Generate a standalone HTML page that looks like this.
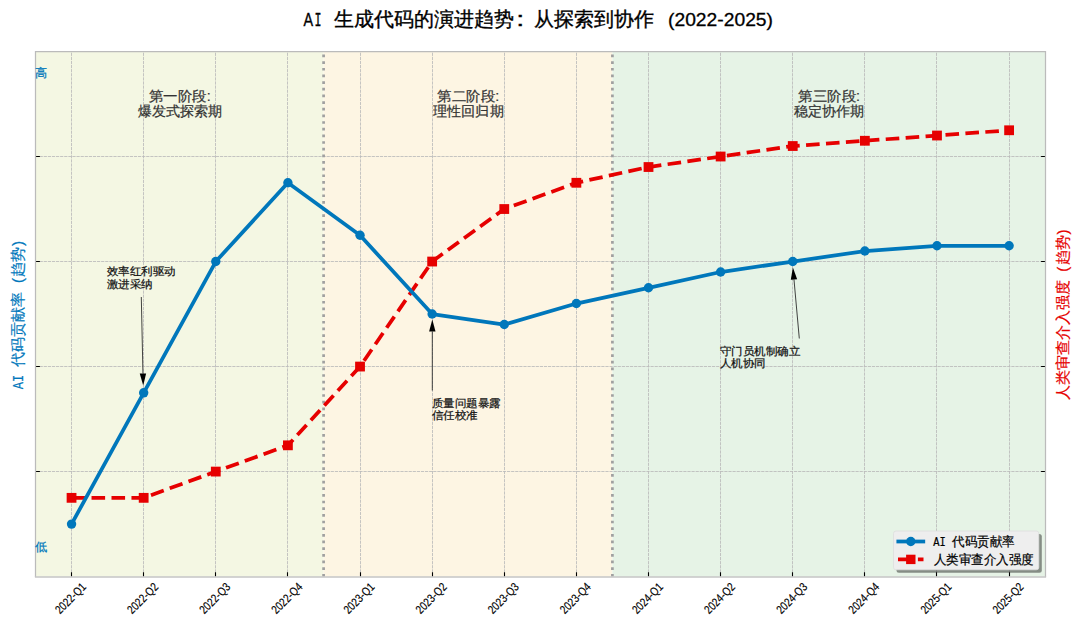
<!DOCTYPE html><html><head><meta charset="utf-8"><title>AI 生成代码的演进趋势</title><style>
html,body{margin:0;padding:0;background:#fff;}body{width:1080px;height:625px;overflow:hidden;}
svg{display:block;} text{font-family:"Liberation Sans",sans-serif;}
.m{font-family:"Liberation Mono",monospace;}
</style></head><body>
<svg width="1080" height="625" viewBox="0 0 1080 625">
<rect x="0" y="0" width="1080" height="625" fill="#ffffff"/>
<rect x="35.5" y="51.5" width="288.10" height="525.10" fill="#f4f7e3"/>
<rect x="323.60" y="51.5" width="288.80" height="525.10" fill="#fdf5e3"/>
<rect x="612.40" y="51.5" width="433.10" height="525.10" fill="#e6f3e6"/>
<path d="M71.50 576.6V51.5M143.50 576.6V51.5M215.50 576.6V51.5M287.50 576.6V51.5M360.50 576.6V51.5M432.50 576.6V51.5M504.50 576.6V51.5M576.50 576.6V51.5M648.50 576.6V51.5M720.50 576.6V51.5M792.50 576.6V51.5M864.50 576.6V51.5M936.50 576.6V51.5M1009.50 576.6V51.5M35.5 471.50H1045.5M35.5 366.50H1045.5M35.5 261.50H1045.5M35.5 156.50H1045.5" stroke="#bababa" stroke-width="0.85" stroke-dasharray="3.2 0.9" fill="none"/>
<path d="M323.60 576.6V51.5M612.40 576.6V51.5" stroke="#a0a0a0" stroke-width="2.7" stroke-dasharray="2.7 3.958" fill="none"/>
<text x="179.80" y="101.00" font-size="13.75" fill="#333333" text-anchor="middle" textLength="61.88" lengthAdjust="spacingAndGlyphs" stroke="#333333" stroke-width="0.22">第一阶段:</text>
<text x="179.80" y="115.80" font-size="13.75" fill="#333333" text-anchor="middle" textLength="84.60" lengthAdjust="spacingAndGlyphs" stroke="#333333" stroke-width="0.22">爆发式探索期</text>
<text x="468.40" y="101.00" font-size="13.75" fill="#333333" text-anchor="middle" textLength="61.88" lengthAdjust="spacingAndGlyphs" stroke="#333333" stroke-width="0.22">第二阶段:</text>
<text x="468.40" y="115.80" font-size="13.75" fill="#333333" text-anchor="middle" textLength="70.50" lengthAdjust="spacingAndGlyphs" stroke="#333333" stroke-width="0.22">理性回归期</text>
<text x="829.10" y="101.00" font-size="13.75" fill="#333333" text-anchor="middle" textLength="61.88" lengthAdjust="spacingAndGlyphs" stroke="#333333" stroke-width="0.22">第三阶段:</text>
<text x="829.10" y="115.80" font-size="13.75" fill="#333333" text-anchor="middle" textLength="70.50" lengthAdjust="spacingAndGlyphs" stroke="#333333" stroke-width="0.22">稳定协作期</text>
<polyline points="71.55,497.84 143.67,497.84 215.79,471.58 287.91,445.33 360.03,366.56 432.15,261.54 504.27,209.03 576.39,182.78 648.51,167.02 720.63,156.52 792.75,146.02 864.87,140.77 936.99,135.52 1009.11,130.27" fill="none" stroke="#e60000" stroke-width="3.75" stroke-dasharray="13.6 6.37" stroke-linejoin="round"/>
<rect x="66.65" y="492.94" width="9.8" height="9.8" fill="#e60000"/>
<rect x="138.77" y="492.94" width="9.8" height="9.8" fill="#e60000"/>
<rect x="210.89" y="466.68" width="9.8" height="9.8" fill="#e60000"/>
<rect x="283.01" y="440.43" width="9.8" height="9.8" fill="#e60000"/>
<rect x="355.13" y="361.66" width="9.8" height="9.8" fill="#e60000"/>
<rect x="427.25" y="256.64" width="9.8" height="9.8" fill="#e60000"/>
<rect x="499.37" y="204.13" width="9.8" height="9.8" fill="#e60000"/>
<rect x="571.49" y="177.88" width="9.8" height="9.8" fill="#e60000"/>
<rect x="643.61" y="162.12" width="9.8" height="9.8" fill="#e60000"/>
<rect x="715.73" y="151.62" width="9.8" height="9.8" fill="#e60000"/>
<rect x="787.85" y="141.12" width="9.8" height="9.8" fill="#e60000"/>
<rect x="859.97" y="135.87" width="9.8" height="9.8" fill="#e60000"/>
<rect x="932.09" y="130.62" width="9.8" height="9.8" fill="#e60000"/>
<rect x="1004.21" y="125.37" width="9.8" height="9.8" fill="#e60000"/>
<polyline points="71.55,524.09 143.67,392.82 215.79,261.54 287.91,182.78 360.03,235.29 432.15,314.05 504.27,324.55 576.39,303.55 648.51,287.80 720.63,272.04 792.75,261.54 864.87,251.04 936.99,245.79 1009.11,245.79" fill="none" stroke="#0077bb" stroke-width="3.75" stroke-linejoin="round"/>
<circle cx="71.55" cy="524.09" r="4.7" fill="#0077bb"/>
<circle cx="143.67" cy="392.82" r="4.7" fill="#0077bb"/>
<circle cx="215.79" cy="261.54" r="4.7" fill="#0077bb"/>
<circle cx="287.91" cy="182.78" r="4.7" fill="#0077bb"/>
<circle cx="360.03" cy="235.29" r="4.7" fill="#0077bb"/>
<circle cx="432.15" cy="314.05" r="4.7" fill="#0077bb"/>
<circle cx="504.27" cy="324.55" r="4.7" fill="#0077bb"/>
<circle cx="576.39" cy="303.55" r="4.7" fill="#0077bb"/>
<circle cx="648.51" cy="287.80" r="4.7" fill="#0077bb"/>
<circle cx="720.63" cy="272.04" r="4.7" fill="#0077bb"/>
<circle cx="792.75" cy="261.54" r="4.7" fill="#0077bb"/>
<circle cx="864.87" cy="251.04" r="4.7" fill="#0077bb"/>
<circle cx="936.99" cy="245.79" r="4.7" fill="#0077bb"/>
<circle cx="1009.11" cy="245.79" r="4.7" fill="#0077bb"/>
<path d="M71.50 576.6v-4.4M143.50 576.6v-4.4M215.50 576.6v-4.4M287.50 576.6v-4.4M360.50 576.6v-4.4M432.50 576.6v-4.4M504.50 576.6v-4.4M576.50 576.6v-4.4M648.50 576.6v-4.4M720.50 576.6v-4.4M792.50 576.6v-4.4M864.50 576.6v-4.4M936.50 576.6v-4.4M1009.50 576.6v-4.4M35.5 471.50h4.4M1045.5 471.50h-4.4M35.5 366.50h4.4M1045.5 366.50h-4.4M35.5 261.50h4.4M1045.5 261.50h-4.4M35.5 156.50h4.4M1045.5 156.50h-4.4" stroke="#000" stroke-width="1.1" fill="none"/>
<path d="M35.5 577.0V51.5H1045.5V577.0" fill="none" stroke="#bbbbbb" stroke-width="1.25"/>
<path d="M34.9 577.0H1046.1" fill="none" stroke="#c4c4c4" stroke-width="1.4"/>
<text x="34.90" y="77.40" font-size="12.2" fill="#0077bb" textLength="12.20" lengthAdjust="spacingAndGlyphs" stroke="#0077bb" stroke-width="0.22">高</text>
<text x="34.90" y="550.60" font-size="12.2" fill="#0077bb" textLength="12.20" lengthAdjust="spacingAndGlyphs" stroke="#0077bb" stroke-width="0.22">低</text>
<path d="M141.30 297.00L142.94 373.50" stroke="#222" stroke-width="0.85" fill="none"/>
<path d="M143.20 385.50L139.74 373.57L146.14 373.43Z" fill="#000"/>
<text x="106.60" y="275.40" font-size="11.25" fill="#111" textLength="69.00" lengthAdjust="spacingAndGlyphs" stroke="#111" stroke-width="0.22">效率红利驱动</text>
<text x="106.60" y="288.20" font-size="11.25" fill="#111" textLength="46.00" lengthAdjust="spacingAndGlyphs" stroke="#111" stroke-width="0.22">激进采纳</text>
<path d="M432.30 390.50L432.30 331.50" stroke="#222" stroke-width="0.85" fill="none"/>
<path d="M432.30 319.50L435.50 331.50L429.10 331.50Z" fill="#000"/>
<text x="431.60" y="407.30" font-size="11.25" fill="#111" textLength="69.00" lengthAdjust="spacingAndGlyphs" stroke="#111" stroke-width="0.22">质量问题暴露</text>
<text x="431.60" y="419.00" font-size="11.25" fill="#111" textLength="46.00" lengthAdjust="spacingAndGlyphs" stroke="#111" stroke-width="0.22">信任校准</text>
<path d="M799.30 338.50L793.98 279.45" stroke="#222" stroke-width="0.85" fill="none"/>
<path d="M792.90 267.50L797.16 279.16L790.79 279.74Z" fill="#000"/>
<text x="719.60" y="355.30" font-size="11.25" fill="#111" textLength="80.50" lengthAdjust="spacingAndGlyphs" stroke="#111" stroke-width="0.22">守门员机制确立</text>
<text x="719.60" y="367.20" font-size="11.25" fill="#111" textLength="46.00" lengthAdjust="spacingAndGlyphs" stroke="#111" stroke-width="0.22">人机协同</text>
<text x="0" y="0" font-size="12" fill="#000" stroke="#000" stroke-width="0.15" text-anchor="middle" textLength="38" lengthAdjust="spacingAndGlyphs" transform="translate(70.75,598.50) rotate(-45) translate(0,3.8)">2022-Q1</text>
<text x="0" y="0" font-size="12" fill="#000" stroke="#000" stroke-width="0.15" text-anchor="middle" textLength="38" lengthAdjust="spacingAndGlyphs" transform="translate(142.87,598.50) rotate(-45) translate(0,3.8)">2022-Q2</text>
<text x="0" y="0" font-size="12" fill="#000" stroke="#000" stroke-width="0.15" text-anchor="middle" textLength="38" lengthAdjust="spacingAndGlyphs" transform="translate(214.99,598.50) rotate(-45) translate(0,3.8)">2022-Q3</text>
<text x="0" y="0" font-size="12" fill="#000" stroke="#000" stroke-width="0.15" text-anchor="middle" textLength="38" lengthAdjust="spacingAndGlyphs" transform="translate(287.11,598.50) rotate(-45) translate(0,3.8)">2022-Q4</text>
<text x="0" y="0" font-size="12" fill="#000" stroke="#000" stroke-width="0.15" text-anchor="middle" textLength="38" lengthAdjust="spacingAndGlyphs" transform="translate(359.23,598.50) rotate(-45) translate(0,3.8)">2023-Q1</text>
<text x="0" y="0" font-size="12" fill="#000" stroke="#000" stroke-width="0.15" text-anchor="middle" textLength="38" lengthAdjust="spacingAndGlyphs" transform="translate(431.35,598.50) rotate(-45) translate(0,3.8)">2023-Q2</text>
<text x="0" y="0" font-size="12" fill="#000" stroke="#000" stroke-width="0.15" text-anchor="middle" textLength="38" lengthAdjust="spacingAndGlyphs" transform="translate(503.47,598.50) rotate(-45) translate(0,3.8)">2023-Q3</text>
<text x="0" y="0" font-size="12" fill="#000" stroke="#000" stroke-width="0.15" text-anchor="middle" textLength="38" lengthAdjust="spacingAndGlyphs" transform="translate(575.59,598.50) rotate(-45) translate(0,3.8)">2023-Q4</text>
<text x="0" y="0" font-size="12" fill="#000" stroke="#000" stroke-width="0.15" text-anchor="middle" textLength="38" lengthAdjust="spacingAndGlyphs" transform="translate(647.71,598.50) rotate(-45) translate(0,3.8)">2024-Q1</text>
<text x="0" y="0" font-size="12" fill="#000" stroke="#000" stroke-width="0.15" text-anchor="middle" textLength="38" lengthAdjust="spacingAndGlyphs" transform="translate(719.83,598.50) rotate(-45) translate(0,3.8)">2024-Q2</text>
<text x="0" y="0" font-size="12" fill="#000" stroke="#000" stroke-width="0.15" text-anchor="middle" textLength="38" lengthAdjust="spacingAndGlyphs" transform="translate(791.95,598.50) rotate(-45) translate(0,3.8)">2024-Q3</text>
<text x="0" y="0" font-size="12" fill="#000" stroke="#000" stroke-width="0.15" text-anchor="middle" textLength="38" lengthAdjust="spacingAndGlyphs" transform="translate(864.07,598.50) rotate(-45) translate(0,3.8)">2024-Q4</text>
<text x="0" y="0" font-size="12" fill="#000" stroke="#000" stroke-width="0.15" text-anchor="middle" textLength="38" lengthAdjust="spacingAndGlyphs" transform="translate(936.19,598.50) rotate(-45) translate(0,3.8)">2025-Q1</text>
<text x="0" y="0" font-size="12" fill="#000" stroke="#000" stroke-width="0.15" text-anchor="middle" textLength="38" lengthAdjust="spacingAndGlyphs" transform="translate(1008.31,598.50) rotate(-45) translate(0,3.8)">2025-Q2</text>
<g transform="translate(23.3,314.6) rotate(-90)">
<text x="-74.60" y="0" font-size="15" fill="#0077bb" stroke="#0077bb" stroke-width="0.2" textLength="14.40" lengthAdjust="spacingAndGlyphs" class="m">AI</text>
<text x="-52.50" y="0" font-size="15" fill="#0077bb" stroke="#0077bb" stroke-width="0.2" textLength="75.00" lengthAdjust="spacingAndGlyphs">代码贡献率</text>
<text x="31.50" y="0" font-size="15" fill="#0077bb" stroke="#0077bb" stroke-width="0.2" textLength="5.00" lengthAdjust="spacingAndGlyphs">(</text>
<text x="37.50" y="0" font-size="15" fill="#0077bb" stroke="#0077bb" stroke-width="0.2" textLength="30.00" lengthAdjust="spacingAndGlyphs">趋势</text>
<text x="68.50" y="0" font-size="15" fill="#0077bb" stroke="#0077bb" stroke-width="0.2" textLength="5.00" lengthAdjust="spacingAndGlyphs">)</text>
</g>
<g transform="translate(1068,314.2) rotate(-90)">
<text x="-86.25" y="0" font-size="15" fill="#e60000" stroke="#e60000" stroke-width="0.2" textLength="120.00" lengthAdjust="spacingAndGlyphs">人类审查介入强度</text>
<text x="42.50" y="0" font-size="15" fill="#e60000" stroke="#e60000" stroke-width="0.2" textLength="5.00" lengthAdjust="spacingAndGlyphs">(</text>
<text x="48.75" y="0" font-size="15" fill="#e60000" stroke="#e60000" stroke-width="0.2" textLength="30.00" lengthAdjust="spacingAndGlyphs">趋势</text>
<text x="79.75" y="0" font-size="15" fill="#e60000" stroke="#e60000" stroke-width="0.2" textLength="5.00" lengthAdjust="spacingAndGlyphs">)</text>
</g>
<text x="303.60" y="26.20" font-size="18.5" fill="#000" textLength="9.60" lengthAdjust="spacingAndGlyphs" stroke="#000" stroke-width="0.35">A</text>
<text x="314.40" y="26.20" font-size="20" fill="#000" textLength="7.00" lengthAdjust="spacingAndGlyphs" class="m" stroke="#000" stroke-width="0.35">I</text>
<text x="334.00" y="26.20" font-size="20" fill="#000" textLength="180.00" lengthAdjust="spacingAndGlyphs" stroke="#000" stroke-width="0.35">生成代码的演进趋势</text>
<text x="516.30" y="26.20" font-size="20" fill="#000" textLength="8.00" lengthAdjust="spacingAndGlyphs" stroke="#000" stroke-width="0.35">:</text>
<text x="534.00" y="26.20" font-size="20" fill="#000" textLength="120.00" lengthAdjust="spacingAndGlyphs" stroke="#000" stroke-width="0.35">从探索到协作</text>
<text x="668.00" y="26.20" font-size="18.5" fill="#000" textLength="105.00" lengthAdjust="spacingAndGlyphs" stroke="#000" stroke-width="0.3">(2022-2025)</text>
<rect x="896.5" y="534" width="145.3" height="38.8" rx="2.5" fill="rgba(0,0,0,0.42)"/>
<rect x="893.5" y="531" width="145.3" height="38.8" rx="2.5" fill="#eeeeee" stroke="#dddddd" stroke-width="0.8"/>
<path d="M898.3 541.5H923.3" stroke="#0077bb" stroke-width="3.75" stroke-linecap="square"/>
<circle cx="910.8" cy="541.5" r="4.7" fill="#0077bb"/>
<path d="M898 559.4H923.5" stroke="#e60000" stroke-width="3.75" stroke-dasharray="13.9 6.0"/>
<rect x="906.10" y="554.70" width="9.4" height="9.4" fill="#e60000"/>
<text x="933.30" y="545.70" font-size="12.5" fill="#000" textLength="12.50" lengthAdjust="spacingAndGlyphs" class="m" stroke="#000" stroke-width="0.22">AI</text>
<text x="952.00" y="545.70" font-size="12.5" fill="#000" textLength="62.50" lengthAdjust="spacingAndGlyphs" stroke="#000" stroke-width="0.22">代码贡献率</text>
<text x="933.50" y="564.20" font-size="12.5" fill="#000" textLength="100.00" lengthAdjust="spacingAndGlyphs" stroke="#000" stroke-width="0.22">人类审查介入强度</text>
</svg></body></html>
